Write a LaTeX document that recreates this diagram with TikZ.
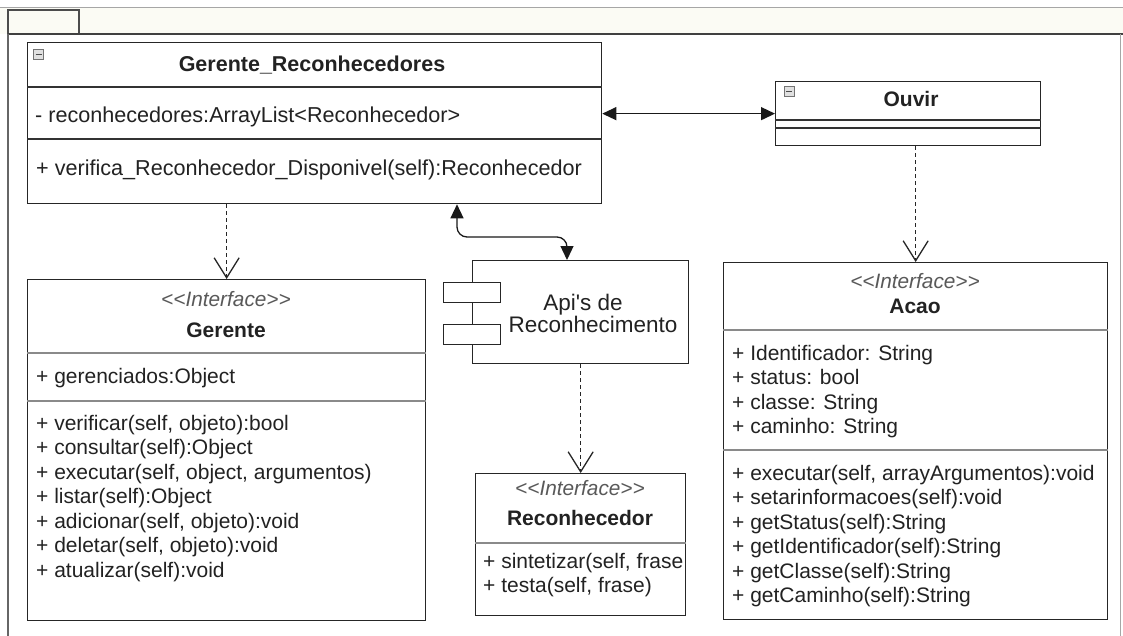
\documentclass[tikz,border=0pt]{standalone}
\usepackage{fontspec}
\setmainfont{Liberation Sans}
\usetikzlibrary{arrows.meta,calc}
\definecolor{ink}{HTML}{222222}
\definecolor{divg}{HTML}{8A8A8A}
\definecolor{tabfill}{HTML}{FBFBF4}
\newcommand{\stereotxt}{<\kern0pt<Interface>\kern0pt>}
\tikzset{
  box/.style={draw=black!85, line width=1.3pt, fill=white, inner sep=0pt, rectangle},
  txt/.style={font=\fontsize{21}{24.5}\selectfont, text=ink, inner sep=0pt, anchor=base west},
  bigtxt/.style={font=\fontsize{21.6}{24.5}\selectfont, text=ink, inner sep=0pt, anchor=base west},
  ttl/.style={font=\fontsize{21}{24.5}\selectfont\bfseries, text=ink, inner sep=0pt, anchor=base},
  stereo/.style={font=\fontsize{20.8}{22}\selectfont\itshape, text=black!65, inner sep=0pt, anchor=base},
  divline/.style={draw=divg, line width=1.1pt},
  cdiv/.style={draw=black!80, line width=1.2pt},
  dep/.style={draw=black!85, line width=1.4pt, dash pattern=on 4pt off 3pt, -{Straight Barb[length=20pt,width=25pt,line width=1.3pt]}},
  assoc/.style={draw=black!90, line width=1.3pt, {Triangle[length=14pt,width=13pt]}-{Triangle[length=14pt,width=13pt]}},
  icon/.style={draw=black!55, fill=black!12, line width=0.8pt, minimum size=10pt, inner sep=0pt, rectangle},
}
\begin{document}
\begin{tikzpicture}[x=1pt,y=-1pt]
\useasboundingbox (0,0) rectangle (1123,636);
% frame
\fill[tabfill] (0,8) rectangle (1123,34);
\draw[black!35, line width=1pt] (0,8) -- (1123,8);
\draw[black!70, line width=1.2pt] (8,34) -- (8,10) -- (79,10) -- (79,34);
\draw[black!75, line width=1.6pt] (8,34) -- (1123,34);
\draw[black!60, line width=1.3pt] (8,34) -- (8,636);
\draw[black!35, line width=1pt] (1120,34) -- (1120,636);

% Gerente_Reconhecedores
\node[box, minimum width=574pt, minimum height=161pt, anchor=north west] (gr) at (27,42) {};
\node[icon] (gric) at (38.5,54.5) {};
\draw[black!70, line width=1pt] ($(gric.center)+(-3,0)$) -- ($(gric.center)+(3,0)$);
\node[ttl, font=\fontsize{21.5}{24.5}\selectfont\bfseries] (grt) at (312,72) {Gerente\_Reconhecedores};
\draw[cdiv] (gr.west |- 0,87) -- (gr.east |- 0,87);
\node[bigtxt] (gra) at (35,123) {- reconhecedores:ArrayList<Reconhecedor>};
\draw[cdiv] (gr.west |- 0,139) -- (gr.east |- 0,139);
\node[bigtxt] (grm) at (36,176) {+ verifica\_Reconhecedor\_Disponivel(self):Reconhecedor};

% Ouvir
\node[box, minimum width=265pt, minimum height=64pt, anchor=north west] (ouvir) at (775,81) {};
\node[icon] (ouic) at (789,91.5) {};
\draw[black!70, line width=1pt] ($(ouic.center)+(-3,0)$) -- ($(ouic.center)+(3,0)$);
\node[ttl] (out) at (911,107) {Ouvir};
\draw[cdiv] (ouvir.west |- 0,120) -- (ouvir.east |- 0,120);
\draw[cdiv] (ouvir.west |- 0,128) -- (ouvir.east |- 0,128);

% Gerente interface
\node[box, minimum width=398pt, minimum height=341pt, anchor=north west] (ger) at (27,279) {};
\node[stereo] (gers) at (226,306) {\stereotxt};
\node[ttl] (gert) at (226,337) {Gerente};
\draw[divline] (ger.west |- 0,353) -- (ger.east |- 0,353);
\node[txt] (gera) at (36,383) {+ gerenciados:Object};
\draw[divline] (ger.west |- 0,401) -- (ger.east |- 0,401);
\node[txt, align=left] (germ) at (36,577) {+ verificar(self, objeto):bool\\
+ consultar(self):Object\\
+ executar(self, object, argumentos)\\
+ listar(self):Object\\
+ adicionar(self, objeto):void\\
+ deletar(self, objeto):void\\
+ atualizar(self):void};

% Api's de Reconhecimento component
\node[box, minimum width=216pt, minimum height=103pt, anchor=north west] (api) at (472,260) {};
\node[box, minimum width=57pt, minimum height=20pt, anchor=north west] (apr1) at (443,282) {};
\node[box, minimum width=57pt, minimum height=20pt, anchor=north west] (apr2) at (443,324) {};
\node[font=\fontsize{22.5}{22}\selectfont, text=ink, inner sep=0pt, anchor=base] (apit1) at (583,310) {Api\textquotesingle s de};
\node[font=\fontsize{22.5}{22}\selectfont, text=ink, inner sep=0pt, anchor=base] (apit2) at (593,332) {Reconhecimento};

% Reconhecedor interface
\node[box, minimum width=210pt, minimum height=142pt, anchor=north west] (rec) at (475,473) {};
\node[stereo] (recs) at (580,495) {\stereotxt};
\node[ttl] (rect) at (580,525) {Reconhecedor};
\draw[divline] (rec.west |- 0,543) -- (rec.east |- 0,543);
\node[txt, align=left] (recm) at (483,592.5) {+ sintetizar(self, frase\\
+ testa(self, frase)};

% Acao interface
\node[box, minimum width=384pt, minimum height=357pt, anchor=north west] (acao) at (723,262) {};
\node[stereo] (acs) at (915,288) {\stereotxt};
\node[ttl] (act) at (915,313) {Acao};
\draw[divline] (acao.west |- 0,330) -- (acao.east |- 0,330);
\node[txt, align=left] (aca) at (732,433.5) {+ Identificador: String\\
+ status: bool\\
+ classe: String\\
+ caminho: String};
\draw[divline] (acao.west |- 0,450) -- (acao.east |- 0,450);
\node[txt, align=left] (acm) at (732,602.5) {+ executar(self, arrayArgumentos):void\\
+ setarinformacoes(self):void\\
+ getStatus(self):String\\
+ getIdentificador(self):String\\
+ getClasse(self):String\\
+ getCaminho(self):String};

% connectors
\draw[assoc] (gr.east |- ouvir.west) -- (ouvir.west);
\draw[dep] (gr.south -| ger.north) -- (ger.north);
\draw[dep] (ouvir.south -| acao.north) -- (acao.north);
\draw[dep] (api.south) -- (rec.north);
\coordinate (k1) at (457,237);
\coordinate (k2) at (567,237);
\draw[assoc, rounded corners=10pt] (gr.south -| k1) -- (k1) -- (k2) -- (api.north -| k2);
\end{tikzpicture}
\end{document}
